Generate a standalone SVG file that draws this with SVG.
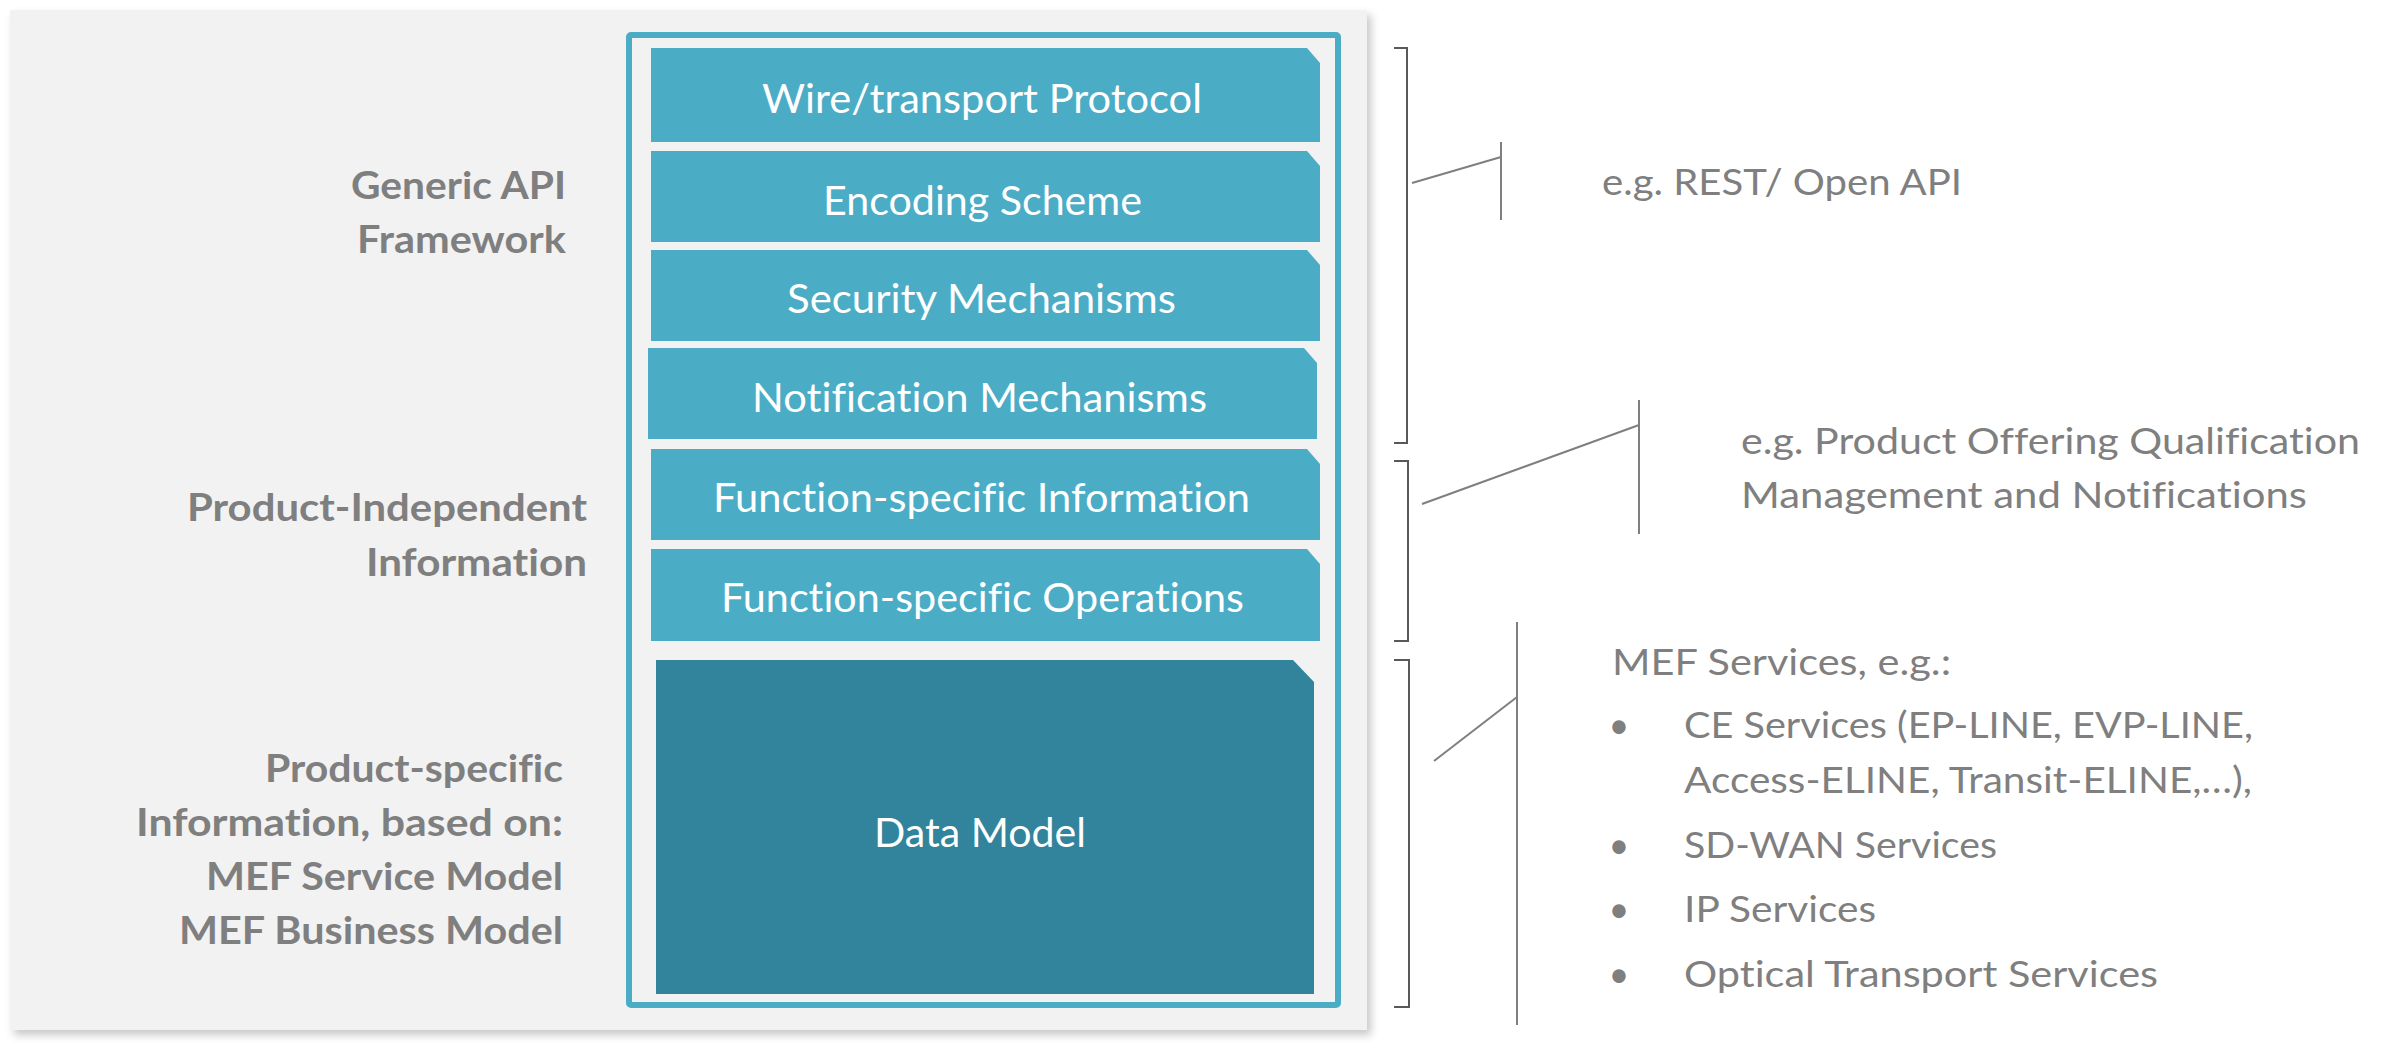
<svg xmlns="http://www.w3.org/2000/svg" width="2384" height="1052" viewBox="0 0 2384 1052">
  <defs>
    <filter id="shadow" x="-5%" y="-5%" width="110%" height="110%">
      <feDropShadow dx="4" dy="5" stdDeviation="4" flood-color="#000000" flood-opacity="0.22"/>
    </filter>
  </defs>
  <style>
    text { font-variant-ligatures: none; }
    .panel { fill: #f2f2f2; }
    .frame { fill: none; stroke: #4bacc6; stroke-width: 6; }
    .box { fill: #4bacc6; }
    .dm { fill: #31849b; }
    .boxtext { font-family: Lato, "Liberation Sans", sans-serif; font-size: 40px; fill: #ffffff; }
    .label { font-family: Lato, "Liberation Sans", sans-serif; font-size: 38px; font-weight: bold; fill: #7f7f7f; }
    .note { font-family: Lato, "Liberation Sans", sans-serif; font-size: 36px; fill: #7f7f7f; }
    .bracket { fill: none; stroke: #595959; stroke-width: 2; }
    .conn { fill: none; stroke: #7f7f7f; stroke-width: 2; }
  </style>

  <rect width="2384" height="1052" fill="#ffffff"/>

  <g id="panel">
    <rect class="panel" x="10" y="10" width="1357" height="1020" filter="url(#shadow)"/>
    <rect class="frame" x="629" y="35" width="709" height="970" rx="2"/>
  </g>

  <g id="labels">
    <text class="label" x="351" y="199" textLength="215" lengthAdjust="spacingAndGlyphs">Generic API</text>
    <text class="label" x="357" y="253" textLength="209" lengthAdjust="spacingAndGlyphs">Framework</text>
    <text class="label" x="187" y="521" textLength="400" lengthAdjust="spacingAndGlyphs">Product-Independent</text>
    <text class="label" x="366" y="576" textLength="221" lengthAdjust="spacingAndGlyphs">Information</text>
    <text class="label" x="265" y="782" textLength="298" lengthAdjust="spacingAndGlyphs">Product-specific</text>
    <text class="label" x="136" y="836" textLength="427" lengthAdjust="spacingAndGlyphs">Information, based on:</text>
    <text class="label" x="206" y="890" textLength="357" lengthAdjust="spacingAndGlyphs">MEF Service Model</text>
    <text class="label" x="179" y="944" textLength="384" lengthAdjust="spacingAndGlyphs">MEF Business Model</text>
  </g>

  <g id="wire">
    <path class="box" d="M651,48 H1307 L1320,63 V142 H651 Z"/>
    <text class="boxtext" x="762" y="113" textLength="440" lengthAdjust="spacingAndGlyphs">Wire/transport Protocol</text>
  </g>
  <g id="encoding">
    <path class="box" d="M651,151 H1307 L1320,166 V242 H651 Z"/>
    <text class="boxtext" x="823" y="215" textLength="319" lengthAdjust="spacingAndGlyphs">Encoding Scheme</text>
  </g>
  <g id="security">
    <path class="box" d="M651,250 H1307 L1320,265 V341 H651 Z"/>
    <text class="boxtext" x="787" y="313" textLength="389" lengthAdjust="spacingAndGlyphs">Security Mechanisms</text>
  </g>
  <g id="notification">
    <path class="box" d="M648,348 H1304 L1317,363 V439 H648 Z"/>
    <text class="boxtext" x="752" y="412" textLength="455" lengthAdjust="spacingAndGlyphs">Notification Mechanisms</text>
  </g>
  <g id="fs-information">
    <path class="box" d="M651,449 H1307 L1320,464 V540 H651 Z"/>
    <text class="boxtext" x="713" y="512" textLength="537" lengthAdjust="spacingAndGlyphs">Function-specific Information</text>
  </g>
  <g id="fs-operations">
    <path class="box" d="M651,549 H1307 L1320,564 V641 H651 Z"/>
    <text class="boxtext" x="721" y="612" textLength="523" lengthAdjust="spacingAndGlyphs">Function-specific Operations</text>
  </g>
  <g id="data-model">
    <path class="dm" d="M656,660 H1293 L1314,682 V994 H656 Z"/>
    <text class="boxtext" x="874" y="847" textLength="212" lengthAdjust="spacingAndGlyphs">Data Model</text>
  </g>

  <g id="connectors">
    <path class="bracket" d="M1394,48 H1407 V443 H1394"/>
    <path class="bracket" d="M1394,461 H1408 V641 H1394"/>
    <path class="bracket" d="M1394,660 H1409 V1007 H1394"/>
    <path class="conn" d="M1412,183 L1501,157"/>
    <path class="conn" d="M1501,142 V220"/>
    <path class="conn" d="M1422,504 L1639,425"/>
    <path class="conn" d="M1639,400 V534"/>
    <path class="conn" d="M1434,761 L1517,697"/>
    <path class="conn" d="M1517,622 V1025"/>
  </g>

  <g id="rest-note">
    <text class="note" x="1602" y="195" textLength="360" lengthAdjust="spacingAndGlyphs">e.g. REST/ Open API</text>
  </g>
  <g id="poq-note">
    <text class="note" x="1741" y="454" textLength="619" lengthAdjust="spacingAndGlyphs">e.g. Product Offering Qualification</text>
    <text class="note" x="1741" y="508" textLength="566" lengthAdjust="spacingAndGlyphs">Management and Notifications</text>
  </g>
  <g id="mef-note">
    <text class="note" x="1612" y="675" textLength="339" lengthAdjust="spacingAndGlyphs">MEF Services, e.g.:</text>
    <text class="note" x="1619" y="738" text-anchor="middle">•</text>
    <text class="note" x="1684" y="738" textLength="569" lengthAdjust="spacingAndGlyphs">CE Services (EP-LINE, EVP-LINE,</text>
    <text class="note" x="1684" y="793" textLength="568" lengthAdjust="spacingAndGlyphs">Access-ELINE, Transit-ELINE,…),</text>
    <text class="note" x="1619" y="858" text-anchor="middle">•</text>
    <text class="note" x="1684" y="858" textLength="313" lengthAdjust="spacingAndGlyphs">SD-WAN Services</text>
    <text class="note" x="1619" y="922" text-anchor="middle">•</text>
    <text class="note" x="1684" y="922" textLength="192" lengthAdjust="spacingAndGlyphs">IP Services</text>
    <text class="note" x="1619" y="987" text-anchor="middle">•</text>
    <text class="note" x="1684" y="987" textLength="474" lengthAdjust="spacingAndGlyphs">Optical Transport Services</text>
  </g>
</svg>
